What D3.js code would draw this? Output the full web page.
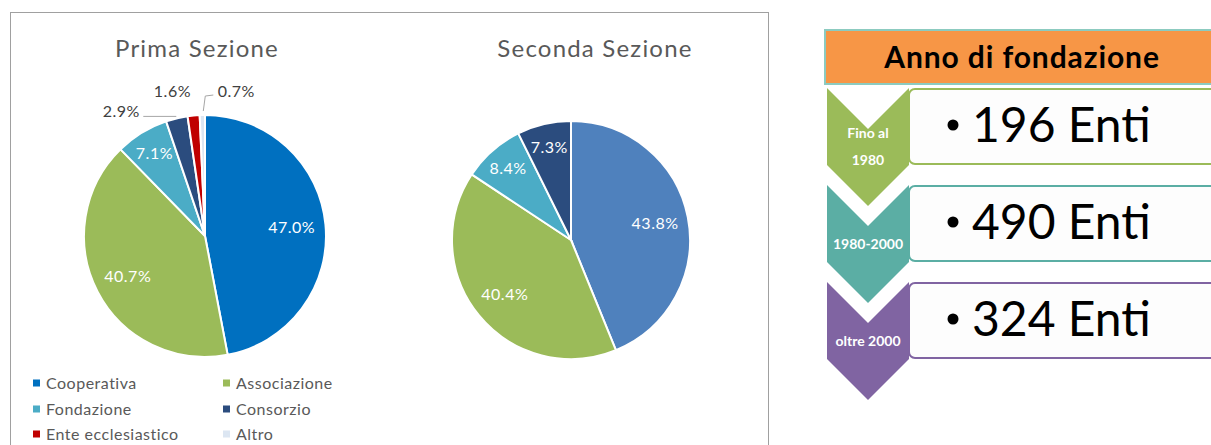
<!DOCTYPE html>
<html lang="it">
<head>
  <meta charset="UTF-8">
  <title>Prima e Seconda Sezione</title>
  <script src="https://d3js.org/d3.v7.min.js"></script>
  <style>
    body { margin: 0; background: #fff; font-family: Lato, "Open Sans", sans-serif; }
    svg { display: block; }
  </style>
</head>
<body>
  <div id="chart"></div>
  <script>
    // Data
    const categories = ["Cooperativa", "Associazione", "Fondazione", "Consorzio", "Ente ecclesiastico", "Altro"];
    const primaValues = [47.0, 40.7, 7.1, 2.9, 1.6, 0.7];
    const secondaValues = [43.8, 40.4, 8.4, 7.3];
    const pieTitles = ["Prima Sezione", "Seconda Sezione"];

    const periods = [["Fino al", "1980"], ["1980-2000"], ["oltre 2000"]];
    const entiCounts = [196, 490, 324];
    const boxTitle = "Anno di fondazione";

    // Colours
    const primaColors = ["#0070C0", "#9BBB59", "#4BACC6", "#2B4C7E", "#C00000", "#DCE6F2"];
    const secondaColors = ["#4F81BD", "#9BBB59", "#4BACC6", "#2B4C7E"];
    const chevronColors = ["#9BBB59", "#5BAEA4", "#8064A2"];

    const width = 1211, height = 445;

    const svg = d3.select("#chart").append("svg")
      .attr("width", width)
      .attr("height", height);

    // dotted frame of the chart area
    svg.append("rect")
      .attr("x", 10.5).attr("y", 12.5)
      .attr("width", 758).attr("height", 460)
      .attr("fill", "none")
      .attr("stroke", "#404040")
      .attr("stroke-dasharray", "1,1");

    const pieGen = d3.pie().sort(null).value(d => d);

    function drawPie(values, colors, title, cx, cy, r, titleX) {
      const g = svg.append("g").attr("transform", `translate(${cx},${cy})`);
      const arcs = pieGen(values);
      const arc = d3.arc().innerRadius(0).outerRadius(r);

      g.selectAll("path")
        .data(arcs)
        .enter()
        .append("path")
        .attr("d", arc)
        .attr("fill", (d, i) => colors[i])
        .attr("stroke", "#fff")
        .attr("stroke-width", 2);

      // labels inside bigger slices
      arcs.forEach((d, i) => {
        if (d.data < 5) return;
        const lr = d.data < 10 ? r * 0.8 : r * 0.72;
        const [lx, ly] = d3.arc().innerRadius(lr).outerRadius(lr).centroid(d);
        g.append("text")
          .attr("x", lx).attr("y", ly)
          .attr("dy", "0.35em")
          .attr("text-anchor", "middle")
          .attr("fill", "#fff")
          .attr("font-size", 16)
          .attr("letter-spacing", 0.5)
          .text(d.data.toFixed(1) + "%");
      });

      svg.append("text")
        .attr("x", titleX).attr("y", 57)
        .attr("text-anchor", "middle")
        .attr("fill", "#595959")
        .attr("font-size", 24)
        .attr("letter-spacing", 1.2)
        .text(title);

      return { g, arcs, r };
    }

    const p1 = drawPie(primaValues, primaColors, pieTitles[0], 205, 236, 121, 197);
    drawPie(secondaValues, secondaColors, pieTitles[1], 571, 240, 119, 595);

    // outside labels for small slices of the first pie
    const outside = [
      { dx: -55, dy: -5, leader: [[0, 0], [-33, 0]] },
      { dx: -21, dy: -22, leader: null },
      { dx: 34, dy: -22, leader: [[1, -2], [3, -17], [11, -18]] }
    ];
    p1.arcs.filter(d => d.data < 5).forEach((d, k) => {
      const o = outside[k];
      const [px, py] = d3.arc().innerRadius(p1.r + 2).outerRadius(p1.r + 2).centroid(d);
      if (o.leader) {
        p1.g.append("polyline")
          .attr("points", o.leader.map(([x, y]) => `${px + x},${py + y}`).join(" "))
          .attr("fill", "none")
          .attr("stroke", "#a6a6a6")
          .attr("stroke-width", 1);
      }
      p1.g.append("text")
        .attr("x", px + o.dx).attr("y", py + o.dy)
        .attr("dy", "0.35em")
        .attr("text-anchor", "middle")
        .attr("fill", "#404040")
        .attr("font-size", 16)
        .attr("letter-spacing", 0.5)
        .text(d.data.toFixed(1) + "%");
    });

    // legend
    const legend = svg.append("g").attr("id", "legend");
    const legX = d3.scaleOrdinal().domain([0, 1]).range([33, 223]);
    const legY = d3.scaleOrdinal().domain([0, 1, 2]).range([383, 409, 434]);
    categories.forEach((c, i) => {
      const x = legX(i % 2), y = legY(Math.floor(i / 2));
      legend.append("rect")
        .attr("x", x).attr("y", y - 3.5)
        .attr("width", 7).attr("height", 7)
        .attr("fill", primaColors[i]);
      legend.append("text")
        .attr("x", x + 13).attr("y", y)
        .attr("dy", "0.35em")
        .attr("fill", "#595959")
        .attr("font-size", 16)
        .attr("letter-spacing", 0.5)
        .text(c);
    });

    // Anno di fondazione panel
    const panel = svg.append("g");
    panel.append("rect")
      .attr("x", 825).attr("y", 30)
      .attr("width", 400).attr("height", 54)
      .attr("fill", "#F79646")
      .attr("stroke", "#8CCBC0")
      .attr("stroke-width", 2);
    panel.append("text")
      .attr("x", 1022).attr("y", 68)
      .attr("text-anchor", "middle")
      .attr("font-weight", "bold")
      .attr("font-size", 30)
      .attr("letter-spacing", 0.9)
      .attr("fill", "#000")
      .text(boxTitle);

    const rowY = d3.scaleLinear().domain([0, 1]).range([88, 185]);
    const cx0 = 827, cw = 82, notch = 41, side = 77;

    entiCounts.forEach((n, i) => {
      const y = rowY(i);
      // rounded box
      panel.append("rect")
        .attr("x", 909).attr("y", y + 1)
        .attr("width", 320).attr("height", 75)
        .attr("rx", 6)
        .attr("fill", "#fdfdfd")
        .attr("stroke", chevronColors[i])
        .attr("stroke-width", 2);
      // chevron
      const pts = [
        [cx0, y], [cx0 + cw / 2, y + notch], [cx0 + cw, y],
        [cx0 + cw, y + side], [cx0 + cw / 2, y + side + notch], [cx0, y + side]
      ];
      panel.append("polygon")
        .attr("points", pts.map(p => p.join(",")).join(" "))
        .attr("fill", chevronColors[i]);
      const lines = periods[i];
      const t = panel.append("text")
        .attr("x", cx0 + cw / 2)
        .attr("text-anchor", "middle")
        .attr("font-weight", "bold")
        .attr("font-size", 14)
        .attr("fill", "#fff");
      lines.forEach((ln, k) => {
        t.append("tspan")
          .attr("x", cx0 + cw / 2)
          .attr("y", y + (lines.length > 1 ? 50 + k * 27 : 64))
          .text(ln);
      });
      // big bullet text
      panel.append("circle")
        .attr("cx", 953).attr("cy", y + 37)
        .attr("r", 5.5)
        .attr("fill", "#000");
      panel.append("text")
        .attr("x", 972).attr("y", y + 54)
        .attr("font-size", 48)
        .attr("fill", "#000")
        .text(n + " Enti");
    });
  </script>
</body>
</html>
